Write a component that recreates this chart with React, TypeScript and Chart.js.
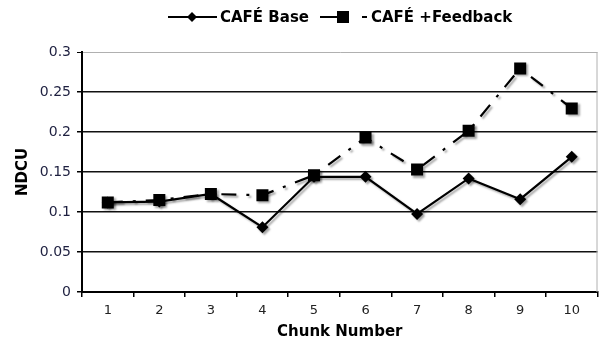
import React, { useEffect, useRef } from "react";
import { Chart, registerables } from "chart.js";

Chart.register(...registerables);

const chunks = ["1", "2", "3", "4", "5", "6", "7", "8", "9", "10"];
const cafeBase = [0.112, 0.113, 0.1225, 0.081, 0.144, 0.144, 0.0975, 0.142, 0.116, 0.169];
const cafeFeedback = [0.112, 0.115, 0.1225, 0.121, 0.146, 0.193, 0.153, 0.2015, 0.2795, 0.2295];
const yTicks = [0, 0.05, 0.1, 0.15, 0.2, 0.25, 0.3];
const seriesNames = ["CAFÉ Base", "CAFÉ +Feedback"];

const FONT = "'DejaVu Sans', Verdana, sans-serif";
const FEEDBACK_DASH = [15, 10, 3, 10];

const shadowPlugin = {
  id: "shadow",
  beforeDatasetsDraw(chart: any) {
    const ctx = chart.ctx;
    ctx.save();
    ctx.shadowColor = "rgba(0,0,0,0.35)";
    ctx.shadowOffsetX = 2;
    ctx.shadowOffsetY = 2;
    ctx.shadowBlur = 2;
  },
  afterDatasetsDraw(chart: any) {
    chart.ctx.restore();
  },
};

const framePlugin = {
  id: "frame",
  beforeDatasetsDraw(chart: any) {
    const { ctx, chartArea } = chart;
    ctx.save();
    ctx.strokeStyle = "#b0b0b0";
    ctx.lineWidth = 1;
    ctx.beginPath();
    ctx.moveTo(chartArea.right - 0.5, chartArea.top);
    ctx.lineTo(chartArea.right - 0.5, chartArea.bottom);
    ctx.stroke();
    ctx.restore();
  },
};

const legendPlugin = {
  id: "customLegend",
  afterDraw(chart: any) {
    const ctx = chart.ctx;
    const y = 17;
    ctx.save();
    ctx.strokeStyle = "#000";
    ctx.fillStyle = "#000";
    ctx.lineWidth = 2;
    // item 1
    ctx.beginPath();
    ctx.moveTo(168, y);
    ctx.lineTo(217, y);
    ctx.stroke();
    ctx.beginPath();
    ctx.moveTo(192, y - 5);
    ctx.lineTo(197, y);
    ctx.lineTo(192, y + 5);
    ctx.lineTo(187, y);
    ctx.closePath();
    ctx.fill();
    // item 2
    ctx.beginPath();
    ctx.moveTo(320, y);
    ctx.lineTo(340, y);
    ctx.stroke();
    ctx.beginPath();
    ctx.moveTo(362, y);
    ctx.lineTo(367, y);
    ctx.stroke();
    ctx.fillRect(337, y - 6, 12, 12);
    ctx.font = "bold 15px " + FONT;
    ctx.textBaseline = "middle";
    ctx.textAlign = "left";
    ctx.fillText(seriesNames[0], 220, y + 1);
    ctx.fillText(seriesNames[1], 371, y + 1);
    ctx.restore();
  },
};

export default function App() {
  const ref = useRef<HTMLCanvasElement>(null);

  useEffect(() => {
    document.body.style.margin = "0";
    const canvas = ref.current;
    if (!canvas) return;
    const chart = new Chart(canvas, {
      type: "line",
      data: {
        labels: chunks,
        datasets: [
          {
            label: seriesNames[0],
            data: cafeBase,
            borderColor: "#000",
            backgroundColor: "#000",
            borderWidth: 2.2,
            pointStyle: "rectRot",
            pointRadius: 6,
            pointBorderWidth: 0,
            tension: 0,
            order: 1,
          },
          {
            label: seriesNames[1],
            data: cafeFeedback,
            borderColor: "#000",
            backgroundColor: "#000",
            borderWidth: 2.2,
            borderDash: FEEDBACK_DASH,
            pointStyle: "rect",
            pointRadius: 8.5,
            pointBorderWidth: 0,
            tension: 0,
            order: 0,
          },
        ],
      },
      options: {
        animation: false,
        responsive: false,
        maintainAspectRatio: false,
        layout: { padding: { top: 52, right: 4, left: 0, bottom: 0 } },
        plugins: {
          legend: { display: false },
          tooltip: { enabled: false },
        },
        scales: {
          x: {
            type: "category",
            offset: true,
            afterFit(scale: any) {
              scale.height = 50;
            },
            grid: {
              offset: true,
              drawOnChartArea: false,
              drawTicks: true,
              tickLength: 5,
              tickColor: "#000",
              lineWidth: 1.5,
            },
            border: { display: true, color: "#000", width: 2 },
            ticks: {
              color: "#222",
              font: { family: FONT, size: 13 },
              padding: 6,
              maxRotation: 0,
            },
            title: {
              display: true,
              text: "Chunk Number",
              color: "#000",
              font: { family: FONT, size: 15, weight: "bold" },
              padding: { top: 1, bottom: 1 },
            },
          },
          y: {
            min: 0,
            max: 0.3,
            afterFit(scale: any) {
              scale.width = 82;
            },
            afterBuildTicks(scale: any) {
              scale.ticks = yTicks.map((v) => ({ value: v }));
            },
            grid: {
              drawTicks: true,
              tickLength: 5,
              tickColor: "#000",
              color: (c: any) => (c.tick && c.tick.value >= 0.3 ? "#b0b0b0" : "#111"),
              lineWidth: (c: any) => (c.tick && c.tick.value >= 0.3 ? 1 : 1.5),
            },
            border: { display: true, color: "#000", width: 2 },
            ticks: {
              color: "#1e2040",
              font: { family: FONT, size: 14 },
              padding: 6,
              callback: (v: any) => String(Number(Number(v).toFixed(2))),
            },
            title: {
              display: true,
              text: "NDCU",
              color: "#000",
              font: { family: FONT, size: 15, weight: "bold" },
              padding: { top: 14, bottom: 0 },
            },
          },
        },
      },
      plugins: [framePlugin, shadowPlugin, legendPlugin],
    } as any);
    return () => chart.destroy();
  }, []);

  return (
    <div style={{ width: 606, height: 342, background: "#fff" }}>
      <canvas ref={ref} width={606} height={342} style={{ display: "block", width: 606, height: 342 }} />
    </div>
  );
}
